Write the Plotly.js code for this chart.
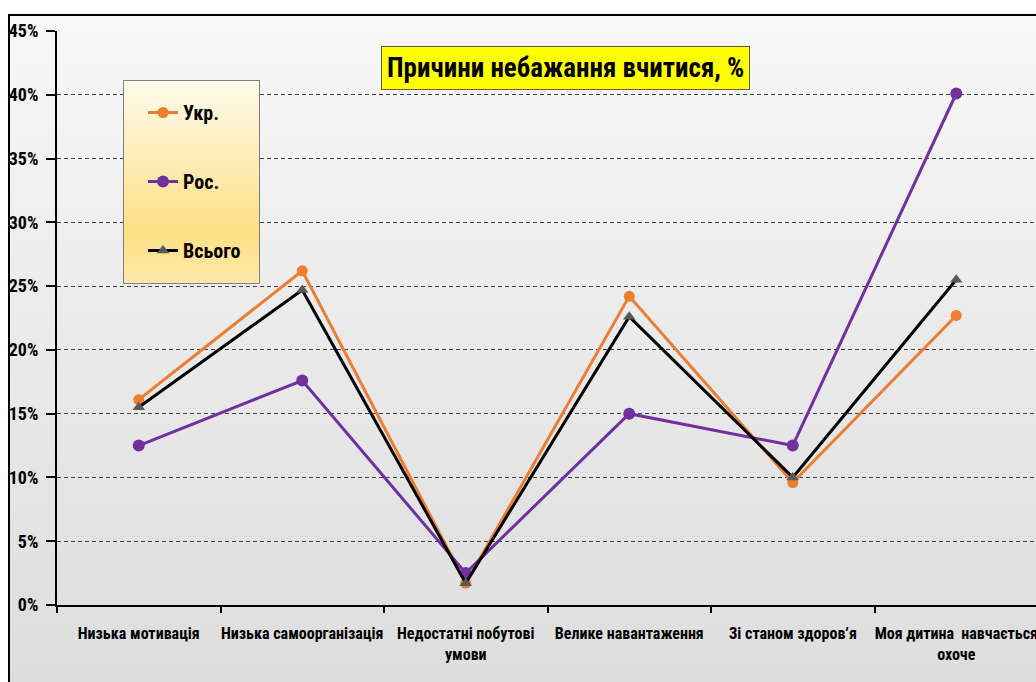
<!DOCTYPE html>
<html>
<head>
<meta charset="utf-8">
<script src="https://cdn.plot.ly/plotly-3.0.1.min.js"></script>
<style>
  html, body { margin: 0; padding: 0; background: #ffffff; overflow: hidden; }
  #frame { position: absolute; left: 8px; top: 14px; width: 1100px; height: 700px;
           border-left: 2px solid #000; border-top: 2px solid #000;
           background: linear-gradient(to bottom, #f8f8f8 0%, #e9e9e9 50%, #dcdcdc 100%); }
  #chart { position: absolute; left: 0; top: 0; width: 1060px; height: 682px; }
</style>
</head>
<body>
<div id="frame"></div>
<div id="chart"></div>
<script>
const categories = [
  "Низька мотивація",
  "Низька самоорганізація",
  "Недостатні побутові<br>умови",
  "Велике навантаження",
  "Зі станом здоров’я",
  "Моя дитина  навчається<br>охоче"
];
const seriesNames = ["Укр.", "Рос.", "Всього"];
const ukr   = [16.1, 26.2, 1.7, 24.2, 9.6, 22.7];
const ros   = [12.5, 17.6, 2.5, 15.0, 12.5, 40.1];
const total = [15.5, 24.7, 1.7, 22.6, 10.0, 25.5];
const yTicks = [0, 5, 10, 15, 20, 25, 30, 35, 40, 45];
const chartTitle = "Причини небажання вчитися, %";

const FONT = '"Roboto Condensed", "Open Sans Condensed", sans-serif';
const idx = categories.map((c, i) => i);

const traces = [
  { x: idx, y: ukr, name: seriesNames[0], type: 'scatter', mode: 'lines+markers',
    legendgroup: 'a',
    line: { color: '#ED7D31', width: 3 },
    marker: { symbol: 'circle', size: 11, color: '#ED7D31' } },
  { x: idx, y: ros, name: seriesNames[1], type: 'scatter', mode: 'lines+markers',
    legendgroup: 'b',
    line: { color: '#7030A0', width: 3 },
    marker: { symbol: 'circle', size: 12, color: '#7030A0' } },
  { x: idx, y: total, name: seriesNames[2], type: 'scatter', mode: 'lines+markers',
    legendgroup: 'c',
    line: { color: '#000000', width: 3 },
    marker: { symbol: 'triangle-up', size: 11, color: '#595959' } }
];

const legendSvg = '<svg xmlns="http://www.w3.org/2000/svg" width="137" height="204" viewBox="0 0 137 204" preserveAspectRatio="none">' +
  '<defs><linearGradient id="g" x1="0" y1="0" x2="0" y2="1">' +
  '<stop offset="0" stop-color="#fffbec"/><stop offset="0.75" stop-color="#fddf85"/><stop offset="1" stop-color="#fee9a8"/>' +
  '</linearGradient></defs>' +
  '<rect x="0.5" y="0.5" width="136" height="203" fill="url(#g)" stroke="#7f7f7f" stroke-width="1"/></svg>';

const L = 57, R = 22, T = 31, B = 77, W = 1060, H = 682;
const pw = W - L - R, ph = H - T - B;
const px = v => (v - L) / pw;
const py = v => (H - B - v) / ph;

const layout = {
  width: W, height: H,
  margin: { l: L, r: R, t: T, b: B, pad: 0 },
  paper_bgcolor: 'rgba(0,0,0,0)',
  plot_bgcolor: 'rgba(0,0,0,0)',
  font: { family: FONT, color: '#000', size: 16, weight: 'bold' },
  showlegend: true,
  legend: {
    x: px(143), y: py(93), xanchor: 'left', yanchor: 'top',
    bgcolor: 'rgba(0,0,0,0)', borderwidth: 0,
    traceorder: 'grouped', tracegroupgap: 40,
    font: { family: FONT, size: 20, color: '#000', weight: 'bold' },
    itemwidth: 30
  },
  xaxis: {
    type: 'linear',
    range: [-0.5, 5.5],
    tickmode: 'array',
    tickvals: idx,
    ticktext: categories,
    tickangle: 0,
    showgrid: false,
    zeroline: false,
    showline: true, linecolor: '#000', linewidth: 2,
    ticks: '',
    tickfont: { family: FONT, size: 16, color: '#000', weight: 'bold' },
    ticklabelstandoff: 13,
    fixedrange: true
  },
  xaxis2: {
    overlaying: 'x', matches: 'x', range: [-0.5, 5.5],
    tickmode: 'array', tickvals: [-0.5, 0.5, 1.5, 2.5, 3.5, 4.5, 5.5],
    showticklabels: false, ticks: 'outside', ticklen: 7, tickwidth: 2, tickcolor: '#000',
    showgrid: false, zeroline: false, showline: false, side: 'bottom', anchor: 'y'
  },
  yaxis: {
    range: [0, 45],
    tickmode: 'array', tickvals: yTicks, ticktext: yTicks.map(v => v + '%'),
    showgrid: true, gridcolor: '#404040', gridwidth: 1, griddash: '4px,3px',
    zeroline: false,
    showline: true, linecolor: '#000', linewidth: 2,
    ticks: 'outside', ticklen: 9, tickwidth: 2, tickcolor: '#000',
    tickfont: { family: FONT, size: 18, color: '#000', weight: 'bold' },
    ticklabelstandoff: 4,
    fixedrange: true
  },
  images: [{
    source: 'data:image/svg+xml;charset=utf-8,' + encodeURIComponent(legendSvg),
    xref: 'paper', yref: 'paper',
    x: px(123), y: py(80), sizex: 137 / pw, sizey: 204 / ph,
    xanchor: 'left', yanchor: 'top', sizing: 'stretch', layer: 'above'
  }],
  annotations: [{
    text: chartTitle,
    xref: 'paper', yref: 'paper',
    x: px(565), y: py(68), xanchor: 'center', yanchor: 'middle',
    showarrow: false,
    font: { family: FONT, size: 27, color: '#000', weight: 'bold' },
    bgcolor: '#ffff00', bordercolor: '#595959', borderwidth: 1, borderpad: 5
  }]
};

// helper trace on xaxis2 to show category boundary ticks
traces.push({ x: [0], y: [null], xaxis: 'x2', yaxis: 'y', type: 'scatter', mode: 'lines',
  showlegend: false, hoverinfo: 'skip' });

Plotly.newPlot('chart', traces, layout, { displayModeBar: false, staticPlot: true });
</script>
</body>
</html>
